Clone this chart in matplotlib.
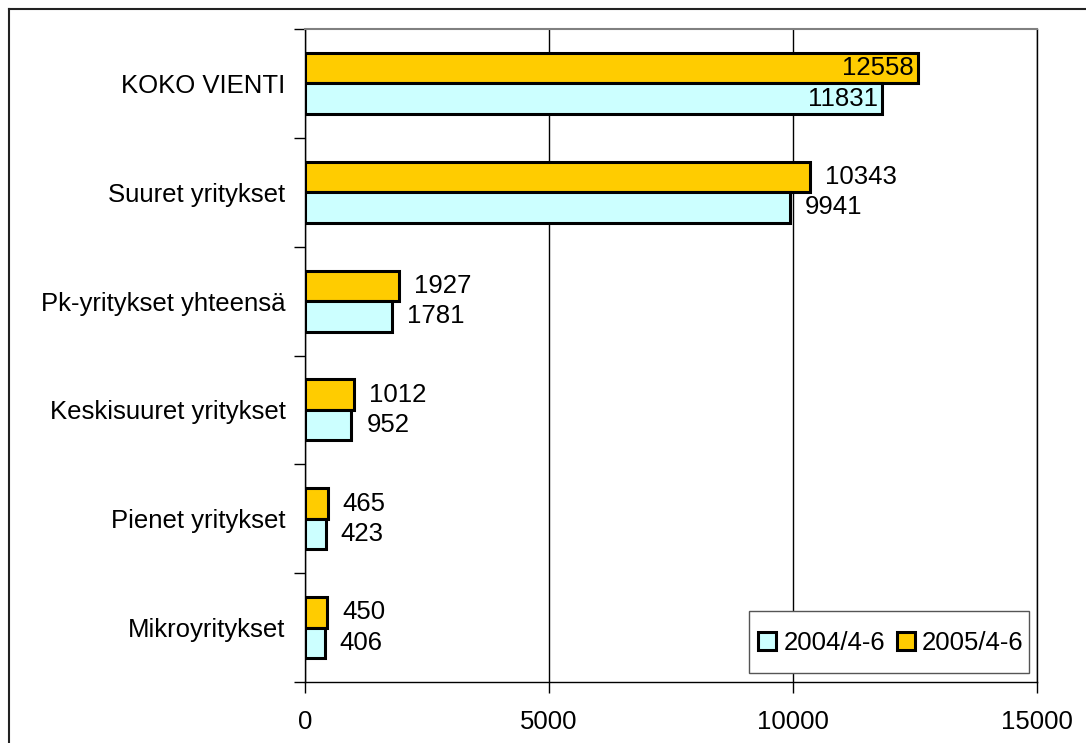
import matplotlib
matplotlib.use("Agg")
import matplotlib.pyplot as plt
import numpy as np
from matplotlib.lines import Line2D
from matplotlib.patches import Rectangle

categories = ["KOKO VIENTI", "Suuret yritykset", "Pk-yritykset yhteensä",
              "Keskisuuret yritykset", "Pienet yritykset", "Mikroyritykset"]
series_names = ["2004/4-6", "2005/4-6"]
values_2004 = [11831, 9941, 1781, 952, 423, 406]
values_2005 = [12558, 10343, 1927, 1012, 465, 450]
xticks = [0, 5000, 10000, 15000]

plt.rcParams['font.family'] = ['Liberation Sans', 'DejaVu Sans']
FS = 18.5

W, H = 1086, 743
fig = plt.figure(figsize=(W / 100, H / 100), dpi=100)
L, R, T, B = 305, 1037, 29, 682
ax = fig.add_axes([L / W, 1 - B / H, (R - L) / W, (B - T) / H])

n = len(categories)
y = np.arange(n)
h = 0.28
c04 = "#CCFFFF"
c05 = "#FFCC00"
b05 = ax.barh(y - h / 2, values_2005, height=h, color=c05, edgecolor="black",
              linewidth=2.2, label=series_names[1], zorder=3)
b04 = ax.barh(y + h / 2, values_2004, height=h, color=c04, edgecolor="black",
              linewidth=2.2, label=series_names[0], zorder=3)

ax.set_xlim(0, 15000)
ax.set_ylim(n - 0.5, -0.5)
ax.set_xticks(xticks)
ax.set_xticklabels([str(v) for v in xticks], fontsize=FS)
ax.set_yticks(y)
ax.set_yticklabels(categories, fontsize=FS)
ax.tick_params(axis="y", length=0, pad=14)
ax.tick_params(axis="x", length=8, width=1, pad=12, direction="out")
# tick marks at category boundaries
ax.set_yticks(np.arange(n + 1) - 0.5, minor=True)
ax.tick_params(axis="y", which="minor", length=8, width=1, direction="out")

ax.grid(axis="x", color="black", linewidth=1, zorder=0)
for s in ["left", "bottom"]:
    ax.spines[s].set_color("black")
    ax.spines[s].set_linewidth(1)
ax.spines["top"].set_color("#808080")
ax.spines["top"].set_linewidth(1.5)
ax.spines["right"].set_color("black")
ax.spines["right"].set_linewidth(1)

for bars, vals in ((b05, values_2005), (b04, values_2004)):
    for rect, v in zip(bars, vals):
        yc = rect.get_y() + rect.get_height() / 2
        if v > 11000:
            ax.annotate(str(v), xy=(v, yc), xytext=(-4, 0), textcoords="offset pixels",
                        ha="right", va="center", fontsize=FS, zorder=5)
        else:
            ax.annotate(str(v), xy=(v, yc), xytext=(15, 0), textcoords="offset pixels",
                        ha="left", va="center", fontsize=FS, zorder=5)

# legend box (drawn as a patch so its size matches the original)
fig.add_artist(Rectangle((749 / W, 1 - 673 / H), (1029 - 749) / W, (673 - 611) / H,
                         transform=fig.transFigure, facecolor="white",
                         edgecolor="#555555", linewidth=1, zorder=4))
handles = [plt.Rectangle((0, 0), 1, 1, facecolor=c04, edgecolor="black", linewidth=2.2),
           plt.Rectangle((0, 0), 1, 1, facecolor=c05, edgecolor="black", linewidth=2.2)]
leg = fig.legend(handles, series_names, loc="center",
                 bbox_to_anchor=(891 / W, 1 - 643 / H), ncol=2, fontsize=FS,
                 frameon=False, handlelength=0.7, handleheight=0.7,
                 handletextpad=0.27, columnspacing=0.47, borderpad=0,
                 borderaxespad=0)
leg.set_zorder(5)

# outer frame (cropped at right and bottom)
fig.add_artist(Line2D([9 / W, 9 / W], [1 - 9 / H, 0], transform=fig.transFigure,
                      color="#222222", linewidth=1.5))
fig.add_artist(Line2D([9 / W, 1], [1 - 9 / H, 1 - 9 / H], transform=fig.transFigure,
                      color="#222222", linewidth=1.5))

fig.savefig("out.png", dpi=100)
